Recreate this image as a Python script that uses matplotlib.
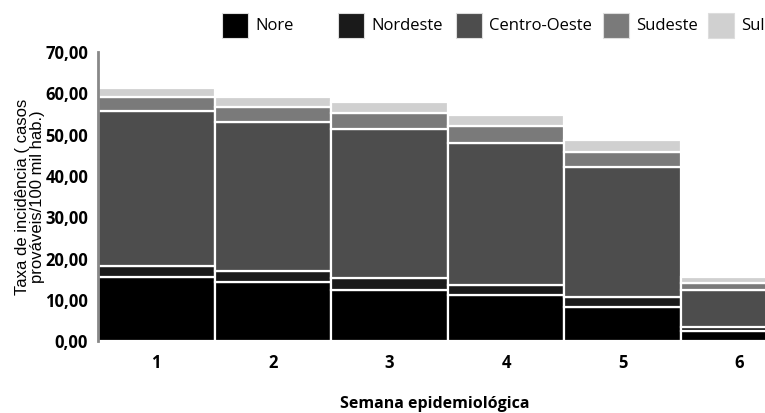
import numpy as np
import matplotlib.pyplot as plt
from matplotlib.patches import Rectangle

plt.rcParams['font.family'] = ['Open Sans', 'DejaVu Sans']

semanas = [1, 2, 3, 4, 5, 6]
regioes = ['Nore', 'Nordeste', 'Centro-Oeste', 'Sudeste', 'Sul']
nore = [15.6, 14.4, 12.4, 11.2, 8.2, 2.4]
nordeste = [2.7, 2.5, 2.9, 2.3, 2.4, 1.1]
centro_oeste = [37.5, 36.2, 36.0, 34.4, 31.6, 8.9]
sudeste = [3.4, 3.6, 3.9, 4.2, 3.7, 1.6]
sul = [2.1, 2.3, 2.8, 2.7, 2.7, 1.5]
cores = ['#000000', '#1a1a1a', '#4d4d4d', '#7a7a7a', '#d0d0d0']

W, H = 765, 413
fig = plt.figure(figsize=(W / 100, H / 100), dpi=100)
ax = fig.add_axes([0.128, 0.174, 0.872, 0.700])

base = np.zeros(len(semanas))
for nome, vals, cor in zip(regioes, [nore, nordeste, centro_oeste, sudeste, sul], cores):
    ax.bar(semanas, vals, width=1.0, bottom=base, color=cor, edgecolor='white',
           linewidth=1.6, label=nome)
    base += np.array(vals)

ax.set_xlim(0.5, 6.22)
ax.set_ylim(0, 70)
ax.set_yticks(np.arange(0, 71, 10))
ax.set_yticklabels([f'{v:.2f}'.replace('.', ',') for v in np.arange(0, 71, 10)],
                   fontweight='bold', fontsize=12)
ax.set_xticks(semanas)
ax.set_xticklabels([str(s) for s in semanas], fontweight='bold', fontsize=12)
ax.tick_params(axis='y', length=0, pad=7)
ax.tick_params(axis='x', length=0, pad=9)
for s in ['top', 'right', 'bottom']:
    ax.spines[s].set_visible(False)
ax.spines['left'].set_color('#888888')
ax.spines['left'].set_linewidth(2)

fig.text(434.5 / W, 1 - 408 / H, 'Semana epidemiológica', fontweight='bold',
         fontsize=11.5, ha='center', va='baseline')
ax.set_ylabel('Taxa de incidência ( casos\nprováveis/100 mil hab.)', fontsize=12,
              family=['Liberation Sans', 'DejaVu Sans'], labelpad=0, linespacing=1.0)

# legenda montada a mao (posicoes)
leg_x = [222, 338, 456, 603, 708]
for xq, nome, cor in zip(leg_x, regioes, cores):
    fig.patches.append(Rectangle((xq / W, 1 - 38 / H), 26 / W, 25 / H,
                                 transform=fig.transFigure, facecolor=cor,
                                 edgecolor='#dddddd', linewidth=0.8))
    fig.text((xq + 33) / W, 1 - 26 / H, nome, fontsize=12, va='center')

plt.savefig('out.png', dpi=100)
